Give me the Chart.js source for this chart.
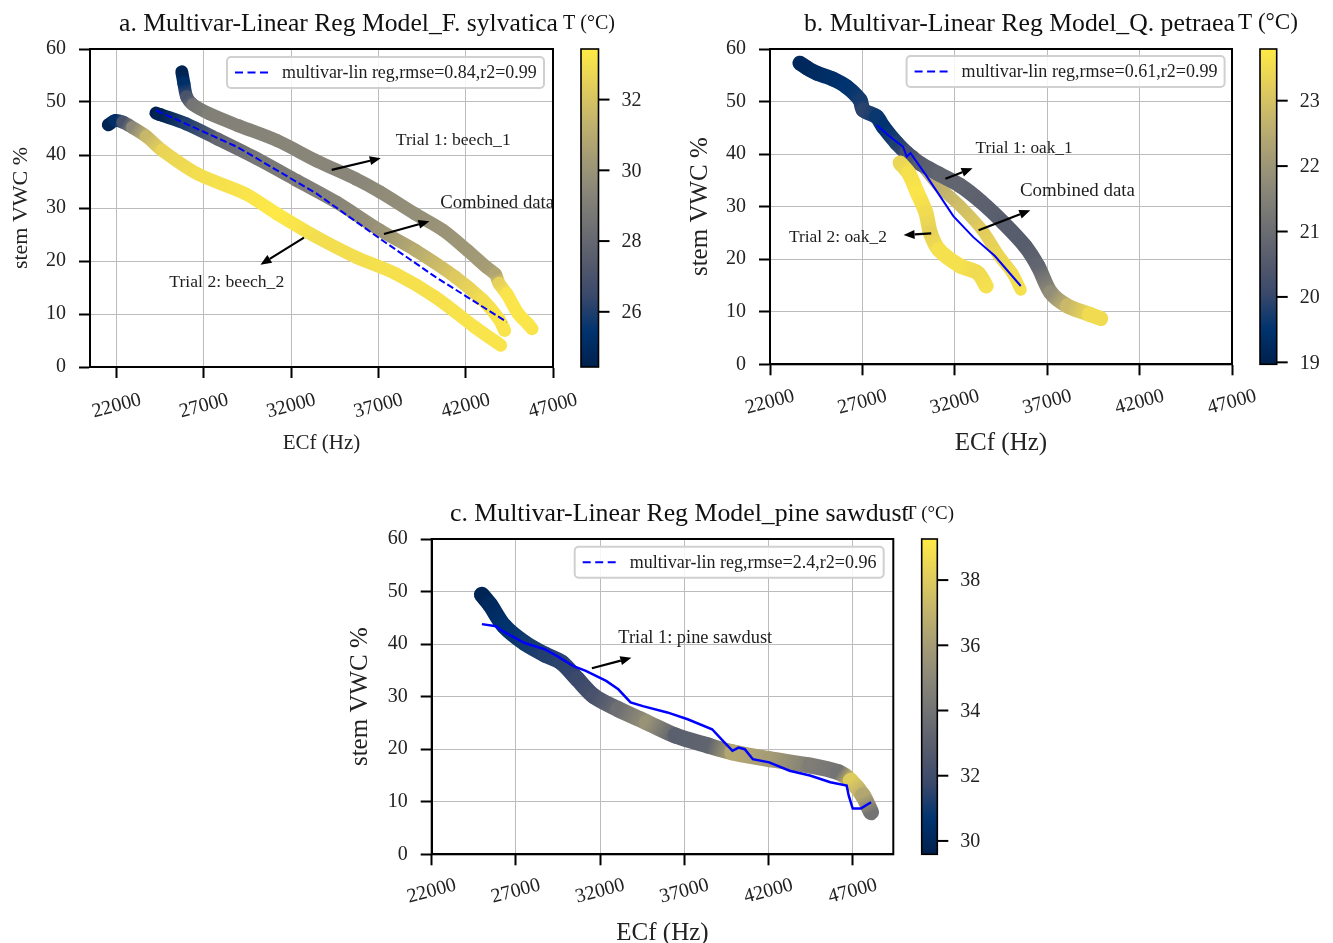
<!DOCTYPE html>
<html><head><meta charset="utf-8">
<script src="https://cdn.jsdelivr.net/npm/chart.js@4.4.1/dist/chart.umd.min.js"></script>
<style>
html,body{margin:0;padding:0;background:#fff;overflow:hidden;}
#wrap{position:relative;width:1333px;height:943px;overflow:hidden;background:#fff;}
canvas{position:absolute;left:0;top:0;}
</style></head><body><div id="wrap">
<canvas id="ca" width="1333" height="943"></canvas>
<canvas id="cb" width="1333" height="943"></canvas>
<canvas id="cc" width="1333" height="960"></canvas>
</div>
<script>
// ---------------- DATA ----------------
const xTickValues = [22000, 27000, 32000, 37000, 42000, 47000];
const yTickValues = [0, 10, 20, 30, 40, 50, 60];
const cbTicksA = [26, 28, 30, 32];
const cbTicksB = [19, 20, 21, 22, 23];
const cbTicksC = [30, 32, 34, 36, 38];

// Panel a: F. sylvatica
const aBeech1Ecf = [25730, 25850, 26010, 26370, 27300, 29000, 31200, 33450, 35700, 37100, 39100, 40700, 42100, 43200, 43700, 43900, 44350, 45000, 45600, 45800];
const aBeech1Vwc = [55.7, 53.5, 51.0, 49.5, 47.8, 45.5, 42.7, 38.9, 35.5, 33.0, 28.9, 25.8, 22.0, 18.8, 17.5, 15.8, 13.8, 10.1, 8.0, 7.2];
const aBeech1T   = [24.6, 25.2, 27.0, 28.6, 29.1, 29.2, 29.3, 29.4, 29.4, 29.6, 29.8, 30.0, 30.2, 30.4, 30.8, 32.5, 33.2, 33.3, 33.3, 33.2];
const aCombEcf = [24250, 24500, 25970, 27790, 30050, 32320, 34590, 37090, 39130, 41400, 42990, 43890, 44230];
const aCombVwc = [47.9, 47.6, 45.9, 43.0, 39.3, 35.2, 31.1, 25.8, 22.0, 17.0, 12.6, 9.1, 6.9];
const aCombT   = [24.5, 24.6, 26.0, 28.0, 28.7, 29.0, 29.3, 30.0, 31.0, 32.2, 33.0, 33.2, 33.2];
const aBeech2Ecf = [21520, 21900, 22350, 22900, 23700, 24600, 26650, 29370, 31190, 33460, 35730, 37990, 40260, 42530, 44000];
const aBeech2Vwc = [45.7, 46.5, 46.2, 45.2, 43.5, 40.9, 36.4, 32.7, 28.9, 24.5, 20.7, 17.6, 13.2, 7.5, 4.1];
const aBeech2T   = [24.6, 25.2, 27.0, 29.5, 31.5, 32.6, 33.0, 33.2, 33.4, 33.0, 33.0, 33.1, 33.1, 33.2, 33.2];
const aRegEcf = [24270, 28920, 33460, 37090, 40260, 44350];
const aRegVwc = [48.4, 41.5, 32.7, 24.2, 17.0, 8.5];

// Panel b: Q. petraea
const bOak1Ecf = [23620, 24000, 24530, 25400, 26150, 26870, 27050, 27770, 28130, 28850, 29400, 30120, 31150, 32300, 33400, 34640, 35800, 36500, 37200, 38100, 39300, 39900];
const bOak1Vwc = [57.3, 56.4, 55.4, 54.3, 52.8, 50.3, 48.4, 47.1, 45.2, 42.1, 40.2, 38.2, 36.2, 34.0, 31.0, 26.9, 22.5, 18.7, 13.6, 11.1, 9.5, 8.7];
const bOak1T   = [19.2, 19.2, 19.3, 19.4, 19.5, 19.7, 19.9, 19.6, 19.5, 19.8, 20.2, 20.6, 20.8, 20.8, 20.7, 20.6, 20.6, 20.8, 21.8, 22.8, 23.5, 23.5];
const bOak2aEcf = [29040, 29500, 29980, 30440, 30680, 31140, 32300, 33240, 33700];
const bOak2aVwc = [38.3, 36.4, 32.6, 28.8, 25.0, 21.8, 18.7, 17.4, 14.9];
const bOak2aT   = [23.4, 23.6, 23.7, 23.5, 23.3, 23.6, 23.6, 23.5, 23.6];
const bOak2bEcf = [29300, 29750, 31140, 32300, 33470, 34400, 35100, 35570];
const bOak2bVwc = [39.2, 39.6, 33.9, 30.1, 25.6, 20.6, 17.4, 14.2];
const bOak2bT   = [22.0, 22.3, 22.6, 22.9, 23.2, 23.4, 23.5, 23.6];
const bRegEcf = [27780, 28500, 29200, 29400, 29600, 30440, 31920, 33000, 34170, 35570];
const bRegVwc = [45.5, 43.3, 41.4, 39.5, 40.2, 36.0, 28.2, 24.2, 20.6, 14.9];

// Panel c: pine sawdust
const cPineEcf = [24980, 25460, 26310, 27520, 28730, 29700, 30660, 31630, 33080, 34780, 36470, 38410, 39860, 42040, 44460, 46150, 46880, 47600, 48090];
const cPineVwc = [49.4, 47.5, 43.4, 40.2, 38.0, 36.5, 33.3, 30.1, 27.6, 25.1, 22.6, 20.7, 19.4, 18.1, 16.9, 15.6, 14.0, 11.2, 8.0];
const cPineT   = [29.8, 30.1, 30.6, 31.0, 31.3, 31.5, 31.8, 32.3, 33.8, 35.5, 33.0, 33.2, 36.5, 36.0, 34.5, 34.0, 38.0, 36.5, 34.0];
const cRegEcf = [24980, 25820, 26190, 27520, 28730, 29450, 30420, 31150, 32360, 33080, 33810, 34540, 35990, 37200, 38650, 39380, 39860, 40220, 40590, 41070, 42040, 43250, 44460, 45670, 46640, 46760, 47000, 47480, 48090];
const cRegVwc = [43.8, 43.4, 42.5, 40.2, 39.0, 37.7, 35.8, 34.9, 33.0, 31.4, 28.9, 28.2, 27.0, 25.7, 23.8, 21.3, 19.7, 20.3, 20.0, 18.1, 17.5, 15.9, 15.0, 13.7, 13.1, 11.2, 8.7, 8.7, 9.9];

// ---------------- STYLE / HELPERS ----------------
const SERIF = "'Liberation Serif', 'DejaVu Serif', serif";
const CIV = [[0,32,77],[0,51,111],[57,72,107],[87,92,109],[112,113,115],[138,135,121],[166,157,117],[196,181,108],[228,207,91],[255,234,70]];
function cmap(v, lo, hi) {
  let f = (v - lo) / (hi - lo); f = Math.max(0, Math.min(1, f));
  const p = f * 9, i = Math.min(8, Math.floor(p)), r = p - i, a = CIV[i], b = CIV[i + 1];
  return 'rgb(' + [0,1,2].map(k => Math.round(a[k] + (b[k] - a[k]) * r)).join(',') + ')';
}
function fitSize(ctx, text, w) {
  ctx.font = '100px ' + SERIF;
  return 100 * w / ctx.measureText(text).width;
}
function drawArrow(ctx, x0, y0, x1, y1) {
  const ang = Math.atan2(y1 - y0, x1 - x0), hl = 11, hw = 4.5;
  const bx = x1 - hl * Math.cos(ang), by = y1 - hl * Math.sin(ang);
  ctx.strokeStyle = '#000'; ctx.fillStyle = '#000'; ctx.lineWidth = 2.2; ctx.setLineDash([]);
  ctx.beginPath(); ctx.moveTo(x0, y0); ctx.lineTo(bx, by); ctx.stroke();
  ctx.beginPath(); ctx.moveTo(x1, y1);
  ctx.lineTo(bx + hw * Math.sin(ang), by - hw * Math.cos(ang));
  ctx.lineTo(bx - hw * Math.sin(ang), by + hw * Math.cos(ang));
  ctx.closePath(); ctx.fill();
}

function decoPlugin(P) {
  return {
    id: 'deco_' + P.id,
    afterDraw(chart) {
      const ctx = chart.ctx, a = chart.chartArea, xs = chart.scales.x, ys = chart.scales.y;
      ctx.save();
      // annotations
      P.notes.forEach(n => {
        const sz = fitSize(ctx, n.t, n.w);
        ctx.font = sz.toFixed(2) + 'px ' + SERIF; ctx.fillStyle = '#1e1e1e';
        ctx.textAlign = 'left'; ctx.textBaseline = 'middle';
        ctx.fillText(n.t, xs.getPixelForValue(n.x), ys.getPixelForValue(n.y));
      });
      P.arrows.forEach(r => drawArrow(ctx, xs.getPixelForValue(r[0]), ys.getPixelForValue(r[1]), xs.getPixelForValue(r[2]), ys.getPixelForValue(r[3])));
      // legend
      const L = P.legend;
      const lsz = fitSize(ctx, L.text, L.tw);
      const boxW = 8 + 34 + 13 + L.tw + 7, boxH = 31;
      const bx = a.right - L.inset - boxW, by = a.top + L.top;
      ctx.beginPath(); ctx.roundRect(bx, by, boxW, boxH, 4);
      ctx.fillStyle = 'rgba(255,255,255,0.85)'; ctx.fill();
      ctx.strokeStyle = '#d0d0d0'; ctx.lineWidth = 2; ctx.stroke();
      ctx.beginPath(); ctx.setLineDash([8, 4.5]); ctx.strokeStyle = '#0000ff'; ctx.lineWidth = 2;
      ctx.moveTo(bx + 8, by + boxH / 2); ctx.lineTo(bx + 42, by + boxH / 2); ctx.stroke(); ctx.setLineDash([]);
      ctx.font = lsz.toFixed(2) + 'px ' + SERIF; ctx.fillStyle = '#1e1e1e'; ctx.textAlign = 'left'; ctx.textBaseline = 'middle';
      ctx.fillText(L.text, bx + 55, by + boxH / 2 + 1);
      // spines
      ctx.strokeStyle = '#000'; ctx.lineWidth = 2;
      ctx.strokeRect(a.left, a.top, a.right - a.left, a.bottom - a.top);
      // x tick labels (rotated, centered on ticks)
      ctx.font = '20px ' + SERIF; ctx.fillStyle = '#222'; ctx.textAlign = 'center'; ctx.textBaseline = 'middle';
      xTickValues.forEach(v => {
        const px = xs.getPixelForValue(v);
        ctx.save(); ctx.translate(px, a.bottom + P.xlabOff); ctx.rotate(-15 * Math.PI / 180);
        ctx.fillText(String(v), 0, 0); ctx.restore();
      });
      // title
      const T = P.title;
      ctx.font = fitSize(ctx, T.text, T.w).toFixed(2) + 'px ' + SERIF;
      ctx.fillStyle = '#111'; ctx.textAlign = 'left'; ctx.textBaseline = 'alphabetic';
      ctx.fillText(T.text, T.x, T.base);
      const C = P.cb;
      ctx.font = fitSize(ctx, 'T (°C)', C.lw).toFixed(2) + 'px ' + SERIF;
      ctx.fillText('T (°C)', C.lx, C.lbase);
      // colorbar
      const x0 = a.right + C.dx, y0 = a.top, y1 = a.bottom;
      const g = ctx.createLinearGradient(0, y1, 0, y0);
      CIV.forEach((c, i) => g.addColorStop(i / 9, 'rgb(' + c.join(',') + ')'));
      ctx.fillStyle = g; ctx.fillRect(x0, y0, C.w, y1 - y0);
      ctx.strokeStyle = '#000'; ctx.lineWidth = 1.6; ctx.strokeRect(x0, y0, C.w, y1 - y0);
      ctx.font = '20px ' + SERIF; ctx.fillStyle = '#222'; ctx.textAlign = 'left'; ctx.textBaseline = 'middle';
      C.ticks.forEach(t => {
        const y = y1 - (t - C.lo) / (C.hi - C.lo) * (y1 - y0);
        ctx.beginPath(); ctx.lineWidth = 2; ctx.moveTo(x0 + C.w, y); ctx.lineTo(x0 + C.w + 11, y); ctx.stroke();
        ctx.fillText(String(t), x0 + C.w + 23, y + 1);
      });
      ctx.restore();
    }
  };
}

function buildPanel(P) {
  const canvas = document.getElementById(P.id);
  const c2d = canvas.getContext('2d');
  const lo = P.cb.lo, hi = P.cb.hi;
  const datasets = [{
    data: P.reg.x.map((x, i) => ({x, y: P.reg.y[i]})),
    borderColor: '#0000ff', borderWidth: P.regW, borderDash: P.regDash,
    pointRadius: 0, tension: 0, order: 0, fill: false
  }];
  P.curves.forEach((cv, k) => {
    datasets.push({
      data: cv.x.map((x, i) => ({x, y: cv.y[i]})),
      borderColor: cmap(cv.t[0], lo, hi), borderWidth: cv.w,
      borderCapStyle: 'round', borderJoinStyle: 'round',
      pointRadius: 0, tension: 0.3, order: 1 + k, fill: false,
      segment: {
        borderColor: s => {
          const gr = c2d.createLinearGradient(s.p0.x, s.p0.y, s.p1.x + 0.01, s.p1.y + 0.01);
          gr.addColorStop(0, cmap(cv.t[s.p0DataIndex], lo, hi));
          gr.addColorStop(1, cmap(cv.t[s.p1DataIndex], lo, hi));
          return gr;
        }
      }
    });
  });
  const gridOpts = {color: '#bcbcbc', lineWidth: 1, drawTicks: true, tickLength: 11, tickColor: '#000', tickWidth: 2};
  new Chart(canvas, {
    type: 'line',
    data: {datasets},
    options: {
      responsive: false, animation: false, devicePixelRatio: 1, events: [],
      layout: {padding: {left: P.left - P.wY, right: 1333 - P.right, top: P.top, bottom: canvas.height - P.bottom - P.hX}},
      plugins: {legend: {display: false}, tooltip: {enabled: false}, title: {display: false}},
      scales: {
        x: {
          type: 'linear', min: P.xMin, max: P.xMax,
          afterBuildTicks: s => { s.ticks = xTickValues.map(v => ({value: v})); },
          afterFit: s => { s.height = P.hX; s.paddingLeft = 0; s.paddingRight = 0; },
          ticks: {display: false},
          grid: gridOpts,
          border: {display: true, color: '#000', width: 2},
          title: {display: true, text: 'ECf (Hz)', color: '#222', font: {family: SERIF, size: P.xTitleSize}, padding: {top: 0, bottom: 0}}
        },
        y: {
          type: 'linear', min: 0, max: 60,
          afterBuildTicks: s => { s.ticks = yTickValues.map(v => ({value: v})); },
          afterFit: s => { s.width = P.wY; s.paddingTop = 0; s.paddingBottom = 0; },
          ticks: {color: '#222', font: {family: SERIF, size: 20}, padding: 13},
          grid: gridOpts,
          border: {display: true, color: '#000', width: 2},
          title: {display: true, text: 'stem VWC %', color: '#222', font: {family: SERIF, size: P.yTitleSize}, padding: {top: 0, bottom: 0}}
        }
      }
    },
    plugins: [decoPlugin(P)]
  });
}

buildPanel({
  id: 'ca', left: 90, right: 553, top: 49, bottom: 367, wY: 82, hX: 89, xTitleSize: 21, yTitleSize: 22,
  xMin: 20470, xMax: 47000, xlabOff: 39, regW: 2, regDash: [7, 3],
  curves: [
    {x: aBeech2Ecf, y: aBeech2Vwc, t: aBeech2T, w: 13},
    {x: aCombEcf, y: aCombVwc, t: aCombT, w: 13},
    {x: aBeech1Ecf, y: aBeech1Vwc, t: aBeech1T, w: 13}
  ],
  reg: {x: aRegEcf, y: aRegVwc},
  notes: [
    {t: 'Trial 1: beech_1', x: 37994, y: 42.8, w: 115},
    {t: 'Combined data', x: 40535, y: 30.9, w: 114},
    {t: 'Trial 2: beech_2', x: 25017, y: 16.0, w: 115}
  ],
  arrows: [[34318, 37.2, 37131, 39.4], [37313, 25.1, 39922, 27.5], [32730, 24.4, 30235, 19.3]],
  legend: {text: 'multivar-lin reg,rmse=0.84,r2=0.99', tw: 255, inset: 9, top: 8},
  title: {text: 'a. Multivar-Linear Reg Model_F. sylvatica', x: 119, base: 31, w: 439},
  cb: {dx: 28, w: 17.5, lo: 24.44, hi: 33.43, ticks: cbTicksA, lx: 563, lbase: 29, lw: 52}
});

buildPanel({
  id: 'cb', left: 770, right: 1232, top: 49, bottom: 364.3, wY: 85, hX: 94, xTitleSize: 25, yTitleSize: 25,
  xMin: 22000, xMax: 47000, xlabOff: 38, regW: 2, regDash: [],
  curves: [
    {x: bOak2aEcf, y: bOak2aVwc, t: bOak2aT, w: 15},
    {x: bOak1Ecf, y: bOak1Vwc, t: bOak1T, w: 15},
    {x: bOak2bEcf, y: bOak2bVwc, t: bOak2bT, w: 12}
  ],
  reg: {x: bRegEcf, y: bRegVwc},
  notes: [
    {t: 'Trial 1: oak_1', x: 33124, y: 41.0, w: 97},
    {t: 'Combined data', x: 35526, y: 33.0, w: 115},
    {t: 'Trial 2: oak_2', x: 23026, y: 24.1, w: 98}
  ],
  arrows: [[31492, 35.3, 32961, 37.3], [33287, 25.5, 36086, 29.3], [30722, 24.9, 29229, 24.6]],
  legend: {text: 'multivar-lin reg,rmse=0.61,r2=0.99', tw: 256, inset: 7.4, top: 7},
  title: {text: 'b. Multivar-Linear Reg Model_Q. petraea', x: 804, base: 31, w: 431},
  cb: {dx: 28, w: 16.7, lo: 18.97, hi: 23.79, ticks: cbTicksB, lx: 1238, lbase: 29, lw: 60}
});

buildPanel({
  id: 'cc', left: 431.7, right: 893.3, top: 539, bottom: 854.3, wY: 86, hX: 94, xTitleSize: 25, yTitleSize: 25,
  xMin: 22000, xMax: 49410, xlabOff: 37, regW: 2.5, regDash: [],
  curves: [
    {x: cPineEcf, y: cPineVwc, t: cPineT, w: 16}
  ],
  reg: {x: cRegEcf, y: cRegVwc},
  notes: [
    {t: 'Trial 1: pine sawdust', x: 33084, y: 41.1, w: 154}
  ],
  arrows: [[31511, 35.4, 33859, 37.4]],
  legend: {text: 'multivar-lin reg,rmse=2.4,r2=0.96', tw: 247, inset: 9.6, top: 7.7},
  title: {text: 'c. Multivar-Linear Reg Model_pine sawdust', x: 450, base: 521, w: 459},
  cb: {dx: 28.4, w: 15.6, lo: 29.59, hi: 39.26, ticks: cbTicksC, lx: 905, lbase: 519, lw: 49}
});
</script>
</body></html>
